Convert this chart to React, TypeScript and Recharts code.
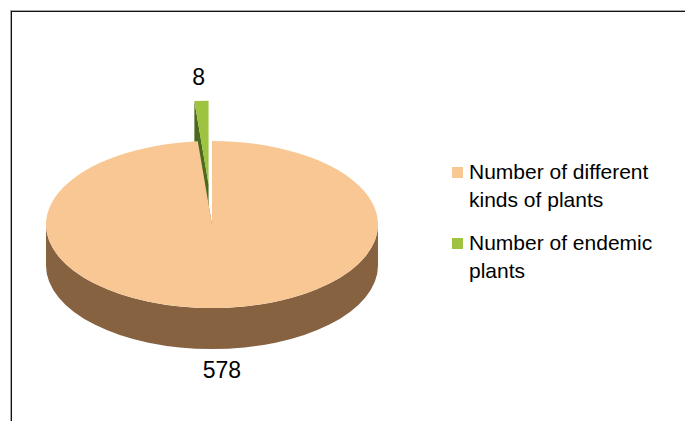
import { PieChart, Pie, Legend } from "recharts";

// data
const categories = ["Number of different kinds of plants", "Number of endemic plants"];
const plantCounts = [578, 8];

const sliceColors = ["#F9C794", "#9DC341"];
const sideColors = ["#866240", "#4B6A1E"];

const data = categories.map((name, i) => ({ name, value: plantCounts[i] }));

// fake 3d settings
const TILT = 0.503;
const DEPTH = 41;
const EXPLODE = 80;
const EXPLODED_INDEX = 1;
const RAD = Math.PI / 180;

function sliceGeometry(props: any) {
  const { cx, cy, outerRadius, startAngle, endAngle, midAngle, index } = props;
  const off = index === EXPLODED_INDEX ? EXPLODE : 0;
  const ox = cx + off * Math.cos(midAngle * RAD);
  const oy = cy - off * TILT * Math.sin(midAngle * RAD);
  const pt = (a: number) => [
    ox + outerRadius * Math.cos(a * RAD),
    oy - outerRadius * TILT * Math.sin(a * RAD),
  ];
  return { ox, oy, pt, r: outerRadius, ry: outerRadius * TILT, s: startAngle, e: endAngle };
}

function renderSide(props: any) {
  const { index } = props;
  const { ox, oy, pt, r, ry, s, e } = sliceGeometry(props);
  const hi = Math.max(s, e);
  const lo = Math.min(s, e);
  const parts: any[] = [];

  // cut faces
  [s, e].forEach((a, k) => {
    const [x, y] = pt(a);
    parts.push(
      <path
        key={"cut" + k}
        d={`M${ox},${oy}L${x},${y}L${x},${y + DEPTH}L${ox},${oy + DEPTH}Z`}
        fill={sideColors[index]}
      />
    );
  });

  // front wall (lower half of the ellipse only)
  [-1, 0, 1].forEach((k) => {
    const a0 = Math.max(lo, -180 + 360 * k);
    const a1 = Math.min(hi, 360 * k);
    if (a1 - a0 > 0) {
      const [x1, y1] = pt(a1);
      const [x0, y0] = pt(a0);
      parts.push(
        <path
          key={"wall" + k}
          d={`M${x1},${y1}A${r},${ry} 0 0 1 ${x0},${y0}L${x0},${y0 + DEPTH}A${r},${ry} 0 0 0 ${x1},${y1 + DEPTH}Z`}
          fill={sideColors[index]}
        />
      );
    }
  });

  return <g>{parts}</g>;
}

function renderTop(props: any) {
  const { index, midAngle, value } = props;
  const { ox, oy, pt, r, ry, s, e } = sliceGeometry(props);
  const [x1, y1] = pt(s);
  const [x2, y2] = pt(e);
  const large = Math.abs(s - e) > 180 ? 1 : 0;
  const sweep = s > e ? 1 : 0;

  const front = Math.sin(midAngle * RAD) < 0;
  const lx = ox + r * 1.4 * Math.cos(midAngle * RAD);
  const [, py] = pt(midAngle);
  const ly = front ? py + DEPTH + 29 : py - 16;

  return (
    <g>
      <path
        d={`M${ox},${oy}L${x1},${y1}A${r},${ry} 0 ${large} ${sweep} ${x2},${y2}Z`}
        fill={sliceColors[index]}
      />
      <text
        x={lx}
        y={ly}
        textAnchor="middle"
        fontSize={23}
        fontFamily="'Liberation Sans', Arial, sans-serif"
        fill="#000"
      >
        {value}
      </text>
    </g>
  );
}

function renderLegend({ payload }: any) {
  // both pies report legend items, keep one per category
  const seen = new Set<string>();
  const items = (payload || []).filter((entry: any) => {
    if (entry.type === "none" || seen.has(entry.value)) return false;
    seen.add(entry.value);
    return true;
  });
  items.sort((a: any, b: any) => categories.indexOf(a.value) - categories.indexOf(b.value));

  return (
    <div style={{ fontFamily: "'Liberation Sans', Arial, sans-serif", fontSize: 21, lineHeight: "28px", color: "#000" }}>
      {items.map((entry: any) => (
        <div key={entry.value} style={{ display: "flex", alignItems: "flex-start", marginBottom: 15 }}>
          <div
            style={{
              width: 11,
              height: 11,
              marginTop: 9,
              marginRight: 6,
              background: sliceColors[categories.indexOf(entry.value)],
              flexShrink: 0,
            }}
          />
          <div style={{ width: 200 }}>{entry.value}</div>
        </div>
      ))}
    </div>
  );
}

export default function App() {
  return (
    <div style={{ position: "relative", width: 685, height: 421, background: "#fff", overflow: "hidden" }}>
      <style>{"body{margin:0;overflow:hidden}"}</style>

      {/* frame */}
      <div style={{ position: "absolute", left: 10, top: 10, width: 700, height: 430, borderTop: "1px solid #a8a8a8", borderLeft: "1px solid #a8a8a8" }} />
      <div style={{ position: "absolute", left: 11, top: 11, width: 700, height: 430, borderTop: "1px solid #111", borderLeft: "1px solid #111" }} />

      <div style={{ position: "absolute", left: 0, top: 0 }}>
        <PieChart width={685} height={421} margin={{ top: 0, right: 0, bottom: 0, left: 0 }}>
          {/* side walls */}
          <Pie
            data={data}
            dataKey="value"
            nameKey="name"
            cx={212}
            cy={224.5}
            outerRadius={166}
            startAngle={90}
            endAngle={-270}
            fill="none"
            stroke="none"
            legendType="none"
            label={renderSide}
            labelLine={false}
            isAnimationActive={false}
          />
          {/* top faces */}
          <Pie
            data={data}
            dataKey="value"
            nameKey="name"
            cx={212}
            cy={224.5}
            outerRadius={166}
            startAngle={90}
            endAngle={-270}
            fill="none"
            stroke="none"
            legendType="square"
            label={renderTop}
            labelLine={false}
            isAnimationActive={false}
          />
          <Legend
            layout="vertical"
            align="right"
            verticalAlign="top"
            content={renderLegend}
            wrapperStyle={{ left: 452, top: 158, width: 230 }}
          />
        </PieChart>
      </div>
    </div>
  );
}
